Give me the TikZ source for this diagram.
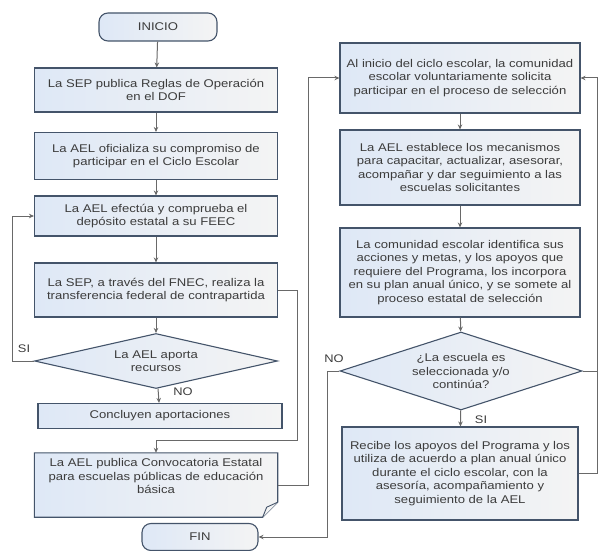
\documentclass[tikz,border=0pt]{standalone}
\usepackage{fontspec}
\setmainfont[FakeStretch=1.17]{Liberation Sans}
\usetikzlibrary{calc, backgrounds, shapes.geometric, arrows.meta}

\definecolor{boxline}{RGB}{68,84,106}
\definecolor{boxfill}{RGB}{222,232,246}
\definecolor{boxend}{RGB}{244,244,244}
\definecolor{flowline}{RGB}{105,105,105}
\definecolor{txt}{RGB}{60,60,60}

\tikzset{
  plain/.style={rectangle, minimum width=243pt, align=center, text=txt, inner sep=1pt,
    font=\fontsize{11.2}{13.5}\selectfont},
  proc/.style={plain, draw=boxline, line width=1.1pt, left color=boxfill, right color=boxend},
  term/.style={proc, rounded corners=9pt, minimum width=118pt, minimum height=28pt},
  decide/.style={diamond, draw=boxline, line width=1.1pt, left color=boxfill, right color=boxend,
    align=center, text=txt, inner sep=0pt, font=\fontsize{11.2}{13.5}\selectfont},
  flow/.style={draw=flowline, line width=1pt, -{Stealth[length=5pt,width=4.5pt]}},
  link/.style={draw=flowline, line width=1pt},
  lbl/.style={text=txt, font=\fontsize{11}{13}\selectfont}
}

\begin{document}
\begin{tikzpicture}[x=1pt, y=-1pt]
    \useasboundingbox (0,0) rectangle (598,551);

    \coordinate (xsi) at (12,0);
    \coordinate (k1) at (297,440);
    \coordinate (xc) at (308,0);
    \coordinate (xno) at (327,0);
    \coordinate (xr) at (597,0);

    % left column
    \node[term] (inicio) at (158,27) {INICIO};
    \node[proc, minimum height=44pt] (sep) at (156,90) {La SEP publica Reglas de Operación\\en el DOF};
    \node[proc, minimum height=47pt] (ael) at (156,156) {La AEL oficializa su compromiso de\\participar en el Ciclo Escolar};
    \node[proc, minimum height=40pt] (dep) at (156,216) {La AEL efectúa y comprueba el\\depósito estatal a su FEEC};
    \node[proc, minimum height=54pt] (fnec) at (156,290) {La SEP, a través del FNEC, realiza la\\transferencia federal de contrapartida};
    \node[decide, minimum width=243pt, minimum height=55pt, aspect=4.4] (aporta) at (156,361) {La AEL aporta\\recursos};
    \node[proc, minimum width=244pt, minimum height=25pt] (concl) at (160,416) {Concluyen aportaciones};
    \node[plain, minimum height=64pt, text depth=18pt] (conv) at (156,485)
        {La AEL publica Convocatoria Estatal\\para escuelas públicas de educación\\básica};
    \node[term, minimum width=116pt, minimum height=27pt] (fin) at (200,537) {FIN};

    % right column
    \node[proc, minimum width=240pt, minimum height=70pt] (sol) at (460,78) {Al inicio del ciclo escolar, la comunidad\\escolar voluntariamente solicita\\participar en el proceso de selección};
    \node[proc, minimum width=240pt, minimum height=75pt] (mec) at (460,167.5) {La AEL establece los mecanismos\\para capacitar, actualizar, asesorar,\\acompañar y dar seguimiento a las\\escuelas solicitantes};
    \node[proc, minimum width=240pt, minimum height=89pt] (ident) at (460,272.5) {La comunidad escolar identifica sus\\acciones y metas, y los apoyos que\\requiere del Programa, los incorpora\\en su plan anual único, y se somete al\\proceso estatal de selección};
    \node[decide, minimum width=242pt, minimum height=78pt, aspect=3.1] (selec) at (461,371) {¿La escuela es\\seleccionada y/o\\continúa?};
    \node[proc, minimum width=236pt, minimum height=93pt] (recibe) at (460,473.5) {Recibe los apoyos del Programa y los\\utiliza de acuerdo a plan anual único\\durante el ciclo escolar, con la\\asesoría, acompañamiento y\\seguimiento de la AEL};

    % document shape behind the convocatoria text
    \begin{scope}[on background layer]
        \draw[boxline, line width=1.1pt, left color=boxfill, right color=boxend]
            (conv.north west) -- (conv.north east) -- ($(conv.south east)+(0,-15)$)
            -- ($(conv.south east)+(-15,0)$) -- (conv.south west) -- cycle;
        \draw[boxline, line width=0.9pt, fill=boxend]
            ($(conv.south east)+(-15,0)$) -- ($(conv.south east)+(-11,-10)$) -- ($(conv.south east)+(0,-15)$);
    \end{scope}

    \foreach \a/\b in {inicio/sep, sep/ael, ael/dep, dep/fnec, fnec/aporta, aporta/concl,
                       sol/mec, mec/ident, ident/selec, selec/recibe}
    \draw[flow] (\a) -- (\b);

    \draw[flow] (aporta.west) -- (aporta.west -| xsi) |- (dep.west);
    \draw[flow] (fnec.east) -| (k1) -- (k1 -| conv.north) -- (conv.north);
    \draw[flow] (conv.east) -- (conv.east -| xc) |- (sol.west);
    \draw[flow] (selec.west) -- (selec.west -| xno) |- (fin.east);
    \draw[flow] (recibe.east) -- (recibe.east -| xr) |- (sol.east);
    \draw[link] (selec.east) -- (selec.east -| xr);

    \node[lbl] (si1) at (24,349) {SI};
    \node[lbl] (no1) at (183,392) {NO};
    \node[lbl] (no2) at (334,359) {NO};
    \node[lbl] (si2) at (481,420) {SI};
\end{tikzpicture}
\end{document}
